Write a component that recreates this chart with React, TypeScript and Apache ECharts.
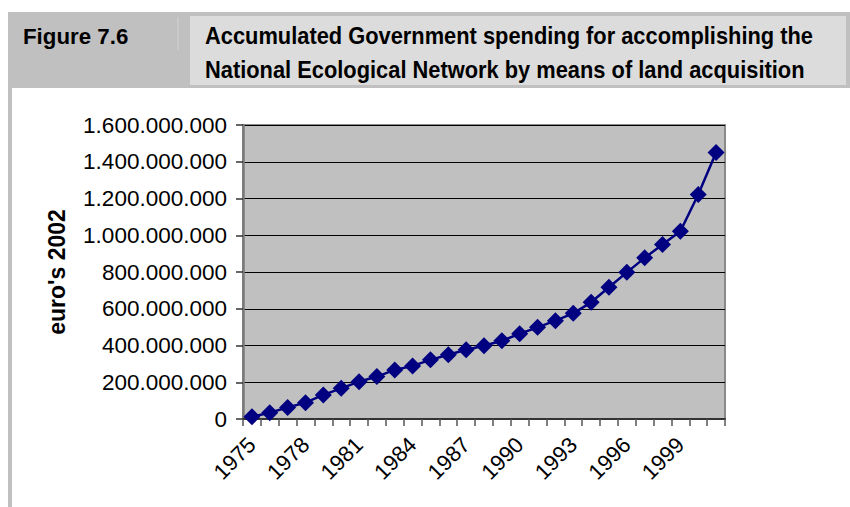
import React, { useEffect, useRef } from "react";
import * as echarts from "echarts";

const years = [
  "1975", "1976", "1977", "1978", "1979", "1980", "1981", "1982", "1983",
  "1984", "1985", "1986", "1987", "1988", "1989", "1990", "1991", "1992",
  "1993", "1994", "1995", "1996", "1997", "1998", "1999", "2000", "2001",
];

const spending = [
  12000000, 34000000, 63000000, 89000000, 131000000, 167000000, 203000000,
  231000000, 267000000, 289000000, 322000000, 350000000, 377000000,
  399000000, 426000000, 464000000, 499000000, 535000000, 575000000,
  635000000, 717000000, 798000000, 877000000, 950000000, 1022000000,
  1222000000, 1450000000,
];

const figureLabel = "Figure 7.6";
const titleLines = [
  "Accumulated Government spending for accomplishing the",
  "National Ecological Network by means of land acquisition",
];
const yAxisTitle = "euro's 2002";

const fmt = (v: number) =>
  String(Math.round(v)).replace(/\B(?=(\d{3})+(?!\d))/g, ".");

export default function App() {
  const ref = useRef<HTMLDivElement>(null);
  useEffect(() => {
    if (!ref.current) return;
    const chart = echarts.init(ref.current, null, { renderer: "svg" });
    const font = "'Liberation Sans', Arial, sans-serif";
    chart.setOption({
      animation: false,
      backgroundColor: "#ffffff",
      textStyle: { fontFamily: font },
      grid: {
        left: 243,
        right: 125,
        top: 125,
        bottom: 88,
        show: true,
        backgroundColor: "#c0c0c0",
        borderColor: "#8a8a8a",
        borderWidth: 2,
      },
      xAxis: {
        type: "category",
        data: years,
        boundaryGap: true,
        axisLine: { show: true, lineStyle: { color: "#333333", width: 2 } },
        axisTick: {
          show: true,
          interval: 0,
          length: 7,
          lineStyle: { color: "#555555", width: 1.5 },
        },
        axisLabel: {
          interval: 2,
          rotate: 45,
          fontSize: 22,
          color: "#000000",
          fontFamily: font,
          margin: 22,
        },
        splitLine: { show: false },
      },
      yAxis: {
        type: "value",
        min: 0,
        max: 1600000000,
        interval: 200000000,
        name: yAxisTitle,
        nameLocation: "middle",
        nameRotate: 90,
        nameGap: 175,
        nameTextStyle: {
          fontSize: 23,
          fontWeight: "bold",
          color: "#000000",
          fontFamily: font,
        },
        axisLine: { show: true, lineStyle: { color: "#7a7a7a", width: 2.5 } },
        axisTick: {
          show: true,
          length: 7,
          inside: false,
          lineStyle: { color: "#333333", width: 1.5 },
        },
        axisLabel: {
          fontSize: 22.5,
          color: "#000000",
          fontFamily: font,
          margin: 16,
          formatter: (v: number) => fmt(v),
        },
        splitLine: { show: true, lineStyle: { color: "#000000", width: 1 } },
      },
      series: [
        {
          type: "line",
          data: spending,
          symbol: "diamond",
          symbolSize: 17,
          showSymbol: true,
          showAllSymbol: true,
          lineStyle: { color: "#000080", width: 2.5 },
          itemStyle: { color: "#000080" },
          z: 5,
        },
      ],
      graphic: [
        {
          type: "rect",
          shape: { x: 8, y: 12, width: 842, height: 76 },
          style: { fill: "#c0c0c0" },
          silent: true,
        },
        {
          type: "rect",
          shape: { x: 190, y: 16, width: 656, height: 69 },
          style: { fill: "#dcdcdc" },
          silent: true,
        },
        {
          type: "line",
          shape: { x1: 178, y1: 17, x2: 178, y2: 50 },
          style: { stroke: "#d2d2d2", lineWidth: 1 },
          silent: true,
        },
        {
          type: "rect",
          shape: { x: 8, y: 88, width: 4, height: 419 },
          style: { fill: "#c0c0c0" },
          silent: true,
        },
        {
          type: "text",
          x: 23,
          y: 36,
          scaleX: 0.97,
          style: {
            text: figureLabel,
            fill: "#000000",
            font: `bold 23px ${font}`,
            textVerticalAlign: "middle",
          },
          silent: true,
        },
        {
          type: "text",
          x: 205,
          y: 36,
          scaleX: 0.95,
          style: {
            text: titleLines[0],
            fill: "#000000",
            font: `bold 23px ${font}`,
            textVerticalAlign: "middle",
          },
          silent: true,
        },
        {
          type: "text",
          x: 205,
          y: 70.5,
          scaleX: 0.95,
          style: {
            text: titleLines[1],
            fill: "#000000",
            font: `bold 23px ${font}`,
            textVerticalAlign: "middle",
          },
          silent: true,
        },
      ],
    });
    return () => chart.dispose();
  }, []);
  return (
    <div
      ref={ref}
      style={{ position: "fixed", left: 0, top: 0, width: 850, height: 507 }}
    />
  );
}
